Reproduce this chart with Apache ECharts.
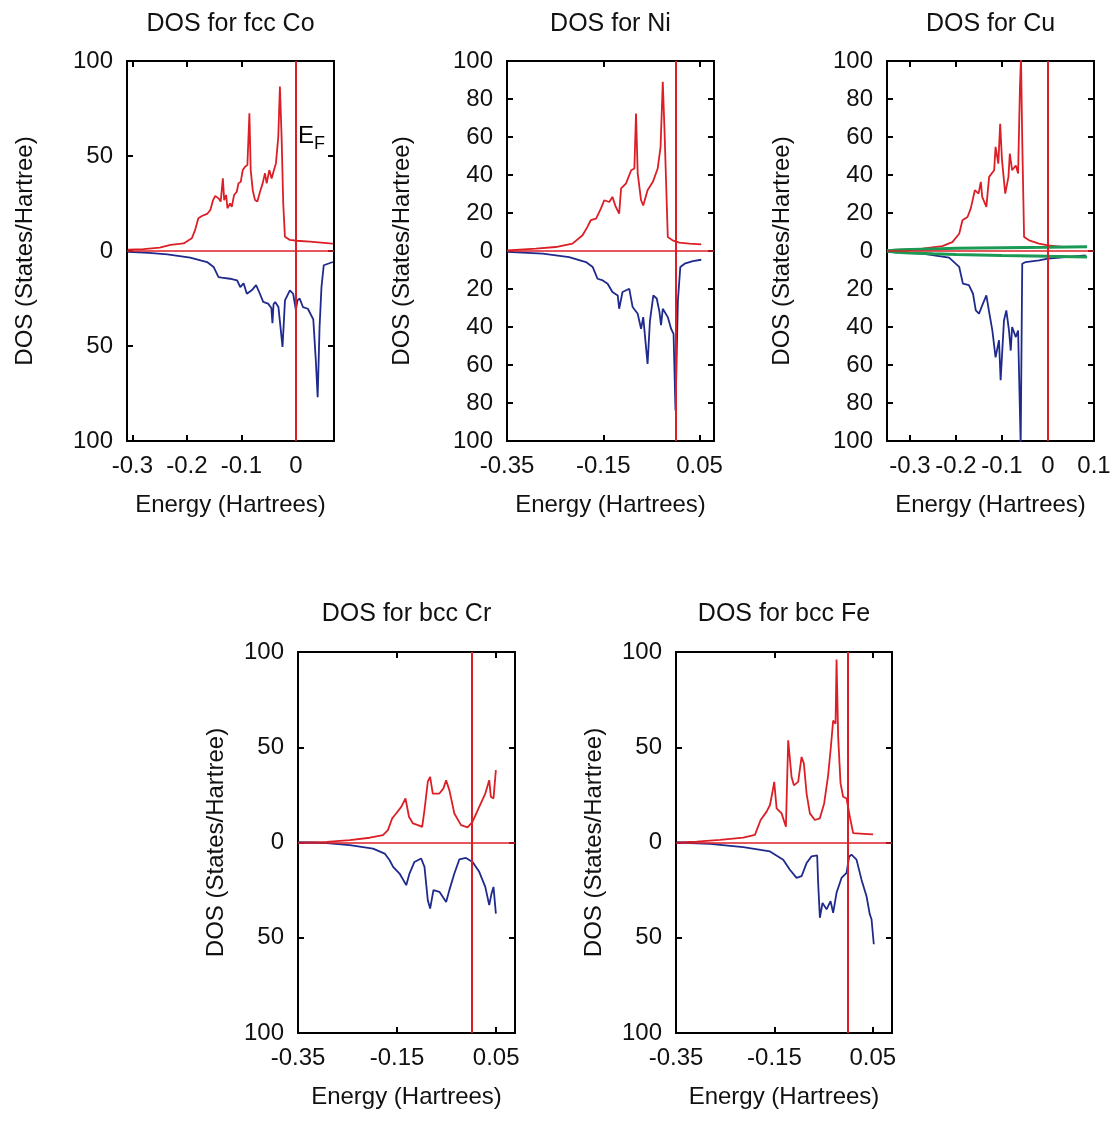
<!DOCTYPE html>
<html>
<head>
<meta charset="utf-8">
<script src="https://cdn.jsdelivr.net/npm/echarts@6/dist/echarts.min.js"></script>
<style>
html,body{margin:0;padding:0;background:#fff;}
#chart{width:1117px;height:1133px;}
</style>
</head>
<body>
<div id="chart"></div>
<script>
// ---------------- DATA ----------------
const titles = ['DOS for fcc Co', 'DOS for Ni', 'DOS for Cu', 'DOS for bcc Cr', 'DOS for bcc Fe'];
const xAxisName = 'Energy (Hartrees)';
const yAxisName = 'DOS (States/Hartree)';

const coXTicks = [-0.3, -0.2, -0.1, 0];
const niXTicks = [-0.35, -0.15, 0.05];
const cuXTicks = [-0.3, -0.2, -0.1, 0, 0.1];
const crXTicks = [-0.35, -0.15, 0.05];
const feXTicks = [-0.35, -0.15, 0.05];
const yTicks50 = [-100, -50, 0, 50, 100];
const yTicks20 = [-100, -80, -60, -40, -20, 0, 20, 40, 60, 80, 100];

const fermiLevels = [0, -0.004, 0, 0, 0];

// fcc Co
const coUpE = [-0.308,-0.28,-0.25,-0.230,-0.206,-0.191,-0.185,-0.179,-0.1725,-0.163,-0.157,-0.152,-0.148,-0.142,-0.138,-0.134,-0.1316,-0.128,-0.1256,-0.1207,-0.1176,-0.1134,-0.1085,-0.1054,-0.1011,-0.0975,-0.0932,-0.089,-0.0853,-0.0829,-0.0792,-0.075,-0.0707,-0.0658,-0.061,-0.0567,-0.0536,-0.0488,-0.0445,-0.0402,-0.0366,-0.0323,-0.0293,-0.0262,-0.0232,-0.0201,-0.011,0.0012,0.0256,0.0622,0.068];
const coUpDos = [0.7,1.0,1.8,3.2,4,6.7,11,17.2,18.4,19.5,21.6,26.8,29,27.7,26,38.2,26.8,29.5,22.5,25,23.3,29.5,31.2,35.6,36.5,42.6,44.4,45.3,72.5,42.6,32,26.8,26,31.2,35.6,40.9,35.6,42.6,38.2,42.6,46.1,60,86.5,60,25,7.5,5.8,5.4,4.9,4,3.9];
const coDnE = [-0.308,-0.27,-0.236,-0.194,-0.163,-0.151,-0.142,-0.136,-0.121,-0.108,-0.102,-0.096,-0.093,-0.090,-0.081,-0.073,-0.066,-0.060,-0.051,-0.045,-0.043,-0.041,-0.038,-0.032,-0.0245,-0.020,-0.011,-0.005,0,0.003,0.007,0.013,0.022,0.032,0.0366,0.040,0.0435,0.047,0.0512,0.059,0.068];
const coDnDos = [-0.5,-1,-1.8,-3.5,-5.8,-8.4,-13.7,-14,-14.6,-15.4,-19,-17,-16,-22.5,-20.7,-18,-22.5,-26.8,-27.7,-30,-38,-28,-26.8,-29.5,-50.5,-26,-20.7,-22.5,-31,-26,-25,-29.5,-30.4,-36,-57.5,-77,-40,-19,-7.5,-6.7,-5.8];

// Ni
const niUpE = [-0.349,-0.29,-0.249,-0.214,-0.193,-0.183,-0.176,-0.165,-0.155,-0.148,-0.1375,-0.131,-0.124,-0.117,-0.113,-0.103,-0.092,-0.0854,-0.082,-0.0785,-0.0715,-0.067,-0.058,-0.047,-0.037,-0.031,-0.0264,-0.023,-0.016,-0.006,0.008,0.029,0.0535];
const niUpDos = [0.3,1.2,2.1,3.9,8.3,12.7,16.2,17,22.3,26.7,25.8,28.5,23.2,19.7,32.9,35.5,42.5,43.4,72.4,40.8,26.7,24,32,36.4,43.4,54.8,89,65,7.4,5.6,4.4,3.9,3.5];
const niDnE = [-0.349,-0.276,-0.221,-0.186,-0.172,-0.162,-0.151,-0.141,-0.131,-0.12,-0.117,-0.110,-0.096,-0.089,-0.0785,-0.0715,-0.067,-0.058,-0.053,-0.046,-0.039,-0.0333,-0.03,-0.0264,-0.016,-0.009,-0.004,0.0,0.005,0.01,0.019,0.036,0.0535];
const niDnDos = [-0.5,-1.4,-3.2,-5.8,-8.4,-14.6,-15.5,-17.2,-21.6,-23.4,-30.4,-21.6,-19.9,-29.5,-33,-41,-34.8,-59.4,-36.6,-23.4,-25,-32,-39,-30.4,-34.8,-41,-43.6,-84,-26,-8.4,-6.7,-5.3,-4.6];

// Cu
const cuUpE = [-0.349,-0.273,-0.23,-0.208,-0.193,-0.186,-0.175,-0.168,-0.159,-0.151,-0.146,-0.143,-0.134,-0.128,-0.117,-0.114,-0.108,-0.104,-0.1,-0.093,-0.086,-0.083,-0.078,-0.07,-0.065,-0.061,-0.0587,-0.056,-0.052,-0.041,-0.0196,0,0.031,0.082];
const cuUpDos = [0.3,1.2,2.6,4.7,9.1,16.2,17.9,22.3,32,30.2,36.4,28.5,23.2,39,42.5,54.8,46,67,47.8,30.2,39,51.3,42.5,45,40.8,86,102,58,7.4,5.6,3.9,3,2.1,2.1];
const cuDnE = [-0.349,-0.273,-0.215,-0.193,-0.185,-0.172,-0.163,-0.157,-0.15,-0.143,-0.134,-0.128,-0.121,-0.114,-0.1065,-0.103,-0.0957,-0.0906,-0.0848,-0.081,-0.078,-0.07,-0.065,-0.0594,-0.056,-0.0485,-0.0196,0,0.082];
const cuDnDos = [-0.5,-1.4,-3.5,-8.4,-17.2,-18,-22.5,-31.3,-33,-28.6,-23.4,-32,-41.8,-56,-47,-68,-36.6,-31.3,-41.8,-52.4,-40,-45.3,-41.8,-102,-6.7,-5.8,-4.9,-4,-2.3];
const cuSUpE = [-0.35,-0.33,-0.3,-0.25,-0.2,-0.1,0,0.085];
const cuSUpDos = [0,0.5,0.8,1.1,1.4,1.7,2.0,2.3];
const cuSDnE = [-0.35,-0.33,-0.3,-0.25,-0.2,-0.1,0,0.085];
const cuSDnDos = [0,-0.6,-1.0,-1.5,-1.9,-2.4,-2.8,-3.1];

// bcc Cr
const crUpE = [-0.349,-0.292,-0.2455,-0.205,-0.1785,-0.1685,-0.16,-0.152,-0.1416,-0.133,-0.126,-0.118,-0.108,-0.0994,-0.0947,-0.088,-0.0833,-0.078,-0.0646,-0.0565,-0.051,-0.0445,-0.0344,-0.021,-0.0077,0.0024,0.0158,0.028,0.036,0.0393,0.0446,0.0494];
const crUpDos = [0,0.35,1.2,2.5,3.9,6.5,12.6,15.2,18.7,23.1,13.5,10,9.1,8.2,17,31.9,34.5,25.7,25.7,28.4,32.7,27.5,15.2,9.1,7.9,10.9,18.7,25.7,32.7,24,23.1,38];
const crDnE = [-0.349,-0.292,-0.2455,-0.1986,-0.175,-0.165,-0.158,-0.145,-0.1315,-0.125,-0.115,-0.1014,-0.0947,-0.088,-0.0833,-0.0766,-0.0646,-0.051,-0.0445,-0.0344,-0.0244,-0.011,0.0024,0.0158,0.028,0.036,0.0406,0.0446,0.0494];
const crDnDos = [0,-0.35,-1.4,-3.2,-5.8,-9.3,-12.8,-16.3,-22.4,-16.3,-10.2,-8.4,-12.8,-30.3,-34.7,-25,-25.9,-31.2,-25,-16.3,-8.9,-8.1,-10.2,-15.4,-23.3,-32.9,-26.8,-23.3,-37.3];

// bcc Fe
const feUpE = [-0.3486,-0.308,-0.2607,-0.2133,-0.1896,-0.178,-0.1658,-0.159,-0.1545,-0.1504,-0.1455,-0.1354,-0.1266,-0.122,-0.1151,-0.1104,-0.1017,-0.0948,-0.0901,-0.0846,-0.0779,-0.0678,-0.0576,-0.0489,-0.0408,-0.0359,-0.0306,-0.0257,-0.0237,-0.0204,-0.0156,-0.0103,-0.0034,0.0033,0.01,0.0236,0.0506];
const feUpDos = [0,0.5,1.4,2.6,4,11.8,16.2,19.7,25.7,31.8,17.9,15.3,8.3,53.6,34.4,30,31.8,44.9,41.4,25.7,15.3,11.8,12.7,20.5,35.3,48.3,64,62.3,96,55.3,31,24,23.1,13.6,4.9,4.7,4.3];
const feDnE = [-0.3486,-0.281,-0.2133,-0.159,-0.1321,-0.1185,-0.105,-0.0948,-0.0846,-0.0745,-0.0631,-0.0611,-0.0576,-0.0522,-0.044,-0.0359,-0.0306,-0.0237,-0.0136,-0.0034,0.0019,0.0067,0.0169,0.027,0.0372,0.0439,0.0474,0.052];
const feDnDos = [0,-0.7,-2.4,-4.7,-9,-14.3,-18.6,-17.7,-10.8,-7.3,-6.8,-21.2,-39.5,-31.7,-35.1,-30.8,-36.9,-26.4,-18.6,-16,-7.3,-6.4,-9,-19.5,-28.2,-37.7,-40.3,-53.4];

// ---------------- LAYOUT ----------------
const RED = '#dc1f26', BLUE = '#1f2a8c', GREEN = '#1c9a55';
const FONT = '"Liberation Sans", Arial, sans-serif';
const zip = (a, b) => a.map((v, k) => [v, b[k]]);

const panels = [
  {grid:{left:127, top:61, width:207, height:380}, xMin:-0.31, xMax:0.07, xTicks:coXTicks, yTicks:yTicks50, nameGap:90, titleTop:12,
   lines:[[coUpE,coUpDos,RED],[coDnE,coDnDos,BLUE]]},
  {grid:{left:507, top:61, width:207, height:380}, xMin:-0.35, xMax:0.08, xTicks:niXTicks, yTicks:yTicks20, nameGap:93, titleTop:12,
   lines:[[niUpE,niUpDos,RED],[niDnE,niDnDos,BLUE]]},
  {grid:{left:887, top:61, width:207, height:380}, xMin:-0.35, xMax:0.1, xTicks:cuXTicks, yTicks:yTicks20, nameGap:93, titleTop:12,
   lines:[[cuUpE,cuUpDos,RED],[cuDnE,cuDnDos,BLUE],[cuSUpE,cuSUpDos,GREEN],[cuSDnE,cuSDnDos,GREEN]]},
  {grid:{left:298, top:652, width:217, height:381}, xMin:-0.35, xMax:0.088, xTicks:crXTicks, yTicks:yTicks50, nameGap:70, titleTop:602,
   lines:[[crUpE,crUpDos,RED],[crDnE,crDnDos,BLUE]]},
  {grid:{left:676, top:652, width:216, height:381}, xMin:-0.35, xMax:0.089, xTicks:feXTicks, yTicks:yTicks50, nameGap:70, titleTop:602,
   lines:[[feUpE,feUpDos,RED],[feDnE,feDnDos,BLUE]]}
];

const option = {
  animation: false,
  backgroundColor: '#fff',
  textStyle: {fontFamily: FONT},
  title: [], grid: [], xAxis: [], yAxis: [], series: [],
  graphic: [
    {type:'text', left:298, top:124, style:{text:'E', font:'24px ' + FONT, fill:'#000'}},
    {type:'text', left:314, top:135, style:{text:'F', font:'18px ' + FONT, fill:'#000'}}
  ]
};

panels.forEach((p, i) => {
  option.grid.push(Object.assign({show:true, borderColor:'#000', borderWidth:2, containLabel:false}, p.grid));
  option.title.push({text: titles[i], left: p.grid.left + p.grid.width / 2, top: p.titleTop, textAlign:'center', padding:0,
    textStyle:{fontFamily:FONT, fontSize:25, fontWeight:'normal', color:'#111'}});
  const tickStyle = {show:true, inside:true, length:6, lineStyle:{color:'#000', width:2}};
  const noLine = {show:false, onZero:false};
  option.xAxis.push({type:'value', gridIndex:i, min:p.xMin, max:p.xMax, position:'bottom',
    name: xAxisName, nameLocation:'middle', nameGap:52,
    nameTextStyle:{fontFamily:FONT, fontSize:24, color:'#111'},
    axisLine:noLine, splitLine:{show:false},
    axisTick:Object.assign({customValues:p.xTicks}, tickStyle),
    axisLabel:{customValues:p.xTicks, margin:13, fontFamily:FONT, fontSize:24, color:'#111', formatter:v => String(v)}});
  option.xAxis.push({type:'value', gridIndex:i, min:p.xMin, max:p.xMax, position:'top',
    axisLine:noLine, splitLine:{show:false},
    axisTick:Object.assign({customValues:p.xTicks}, tickStyle), axisLabel:{show:false}});
  option.yAxis.push({type:'value', gridIndex:i, min:-100, max:100, position:'left',
    name: yAxisName, nameLocation:'middle', nameGap:p.nameGap,
    nameTextStyle:{fontFamily:FONT, fontSize:24, color:'#111'},
    axisLine:noLine, splitLine:{show:false},
    axisTick:Object.assign({customValues:p.yTicks}, tickStyle),
    axisLabel:{customValues:p.yTicks, margin:14, fontFamily:FONT, fontSize:24, color:'#111', formatter:v => String(Math.abs(v))}});
  option.yAxis.push({type:'value', gridIndex:i, min:-100, max:100, position:'right',
    axisLine:noLine, splitLine:{show:false},
    axisTick:Object.assign({customValues:p.yTicks}, tickStyle), axisLabel:{show:false}});

  p.lines.forEach((ln, k) => {
    const s = {type:'line', xAxisIndex:2*i, yAxisIndex:2*i, data: zip(ln[0], ln[1]),
      showSymbol:false, symbol:'none', clip:true, silent:true,
      lineStyle:{color: ln[2], width: ln[2] === GREEN ? 3 : 1.8}, z: ln[2] === GREEN ? 3 : 2};
    if (k === 0) {
      s.markLine = {silent:true, symbol:['none','none'], label:{show:false}, animation:false,
        lineStyle:{color:RED, width:2, type:'solid'},
        data:[{xAxis: fermiLevels[i]}, {yAxis: 0, lineStyle:{color:RED, width:1.5, type:'solid'}}]};
    }
    option.series.push(s);
  });
});

const chart = echarts.init(document.getElementById('chart'), null, {renderer:'canvas'});
chart.setOption(option);
</script>
</body>
</html>
